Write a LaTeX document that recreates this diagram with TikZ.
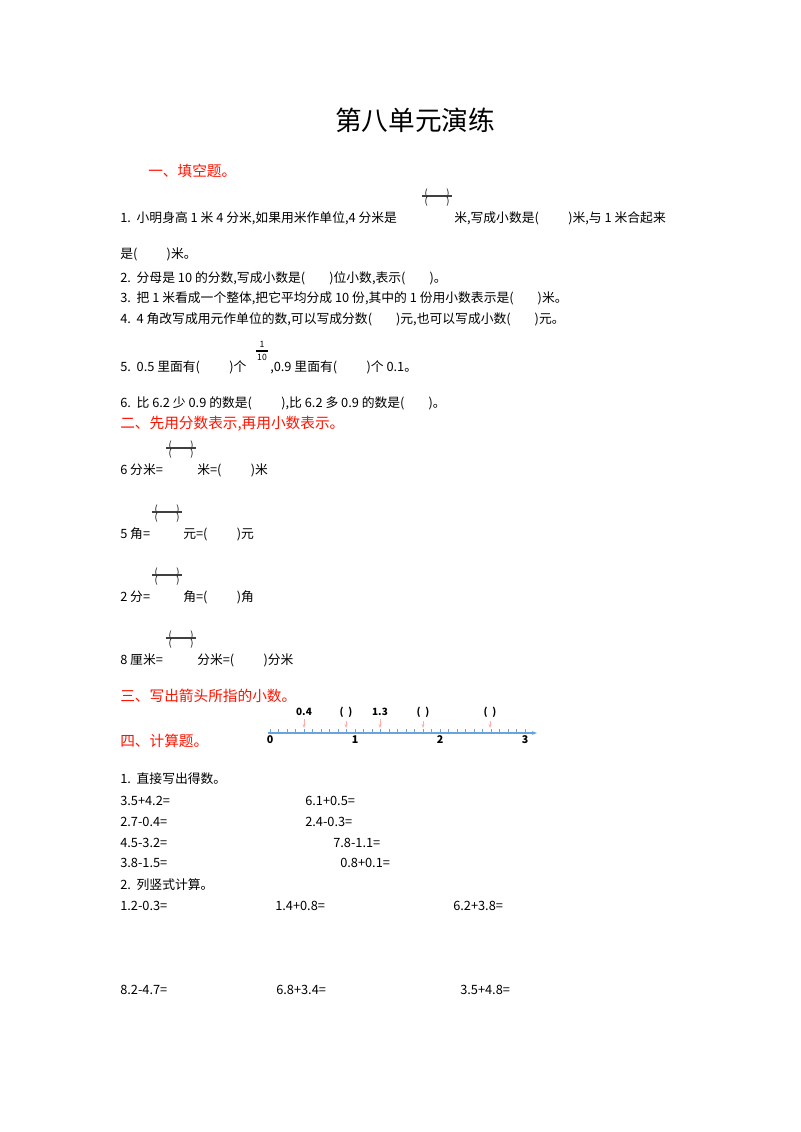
\documentclass[tikz,border=0pt]{standalone}
\usepackage{fontspec}
\usetikzlibrary{arrows.meta}
\setmainfont{Noto Sans CJK SC}
\begin{document}
\begin{tikzpicture}[x=0.75pt,y=-0.75pt,
  t/.style={anchor=base west,inner sep=0pt,font=\fontsize{9.6}{11}\selectfont},
  h/.style={t,text=red!85!orange,font=\fontsize{11}{13}\selectfont},
  p/.style={inner sep=0pt,font=\fontsize{7}{8}\selectfont},
  pk/.style={-{Stealth[length=3pt]},draw=pink!90!red,line width=0.5pt}]
\useasboundingbox (0,0) rectangle (800,1132);
\newcommand{\fr}[3]{% x, top y, name
  \node[p,anchor=north] (#3n) at (#1+15,#2) {(\hspace{14pt})};
  \draw[line width=1pt,black!75] (#1,#2+7) -- (#1+30,#2+7);
  \node[p,anchor=north] (#3d) at (#1+15,#2+8) {(\hspace{14pt})};}
\node[anchor=base,inner sep=0pt,font=\fontsize{20}{24}\selectfont] (title) at (415,130) {第八单元演练};
\node[h] (s1) at (148,176) {一、填空题。};
\node[t] (l1a) at (120,222) {1.\ \ 小明身高 1 米 4 分米,如果用米作单位,4 分米是};
\fr{422}{189}{f1}
\node[t] (l1b) at (454,222) {米,写成小数是(\hspace{22pt})米,与 1 米合起来};
\node[t] (l1c) at (120,258) {是(\hspace{22pt})米。};
\node[t] (l2) at (120,282) {2.\ \ 分母是 10 的分数,写成小数是(\hspace{18pt})位小数,表示(\hspace{18pt})。};
\node[t] (l3) at (120,302) {3.\ \ 把 1 米看成一个整体,把它平均分成 10 份,其中的 1 份用小数表示是(\hspace{18pt})米。};
\node[t] (l4) at (120,323) {4.\ \ 4 角改写成用元作单位的数,可以写成分数(\hspace{18pt})元,也可以写成小数(\hspace{18pt})元。};
\node[t] (l5a) at (120,371) {5.\ \ 0.5 里面有(\hspace{22pt})个};
\node[p,anchor=base,font=\fontsize{6.5}{7}\selectfont] (o1) at (262,347) {1};
\draw[line width=0.8pt] (256,351) -- (268,351);
\node[p,anchor=base,font=\fontsize{6.5}{7}\selectfont] (o10) at (262,360) {10};
\node[t] (l5b) at (270,371) {,0.9 里面有(\hspace{22pt})个 0.1。};
\node[t] (l6) at (120,407) {6.\ \ 比 6.2 少 0.9 的数是(\hspace{22pt}),比 6.2 多 0.9 的数是(\hspace{18pt})。};
\node[h] (s2) at (120,428) {二、先用分数表示,再用小数表示。};
\node[t] (a1) at (120,474) {6 分米=};
\fr{166}{441}{f2}
\node[t] (a1b) at (197,474) {米=(\hspace{22pt})米};
\node[t] (a2) at (120,538) {5 角=};
\fr{152}{505}{f3}
\node[t] (a2b) at (183,538) {元=(\hspace{22pt})元};
\node[t] (a3) at (120,601) {2 分=};
\fr{152}{568}{f4}
\node[t] (a3b) at (183,601) {角=(\hspace{22pt})角};
\node[t] (a4) at (120,664) {8 厘米=};
\fr{166}{631}{f5}
\node[t] (a4b) at (197,664) {分米=(\hspace{22pt})分米};
\node[h] (s3) at (120,701) {三、写出箭头所指的小数。};
% number line
\coordinate (n0) at (268,733);
\coordinate (nend) at (537,733);
\draw[cyan!60!blue!60,line width=0.8pt,-{Stealth[length=4pt]}] (n0) -- (nend);
\foreach \i in {0,...,30}{\draw[cyan!60!blue!60,line width=0.5pt] (270+\i*8.5,733) -- (270+\i*8.5,729);}
\foreach \i in {0,1,2,3}{\node[p,anchor=north,font=\fontsize{8}{9}\bfseries\selectfont] (nl\i) at (270+\i*85,735) {\i};}
\foreach \x/\l [count=\k] in {304/0.4,346/(\ \ ),380/1.3,423/(\ \ ),490/(\ \ )}{
  \node[p,anchor=base,font=\fontsize{7.5}{8}\bfseries\selectfont] (al\k) at (\x,715) {\l};
  \coordinate (ae\k) at (\x,728);
  \draw[pk] (al\k.south) ++(0,4) -- (ae\k);}
\node[h] (s4) at (120,746) {四、计算题。};
\node[t] (c1) at (120,783) {1.\ \ 直接写出得数。};
\node[t] (e1) at (120,805) {3.5+4.2=};
\node[t] (e2) at (305,805) {6.1+0.5=};
\node[t] (e3) at (120,826) {2.7-0.4=};
\node[t] (e4) at (305,826) {2.4-0.3=};
\node[t] (e5) at (120,847) {4.5-3.2=};
\node[t] (e6) at (333,847) {7.8-1.1=};
\node[t] (e7) at (120,867) {3.8-1.5=};
\node[t] (e8) at (340,867) {0.8+0.1=};
\node[t] (c2) at (120,889) {2.\ \ 列竖式计算。};
\node[t] (v1) at (120,910) {1.2-0.3=};
\node[t] (v2) at (275,910) {1.4+0.8=};
\node[t] (v3) at (453,910) {6.2+3.8=};
\node[t] (v4) at (120,994) {8.2-4.7=};
\node[t] (v5) at (276,994) {6.8+3.4=};
\node[t] (v6) at (460,994) {3.5+4.8=};
\end{tikzpicture}
\end{document}
